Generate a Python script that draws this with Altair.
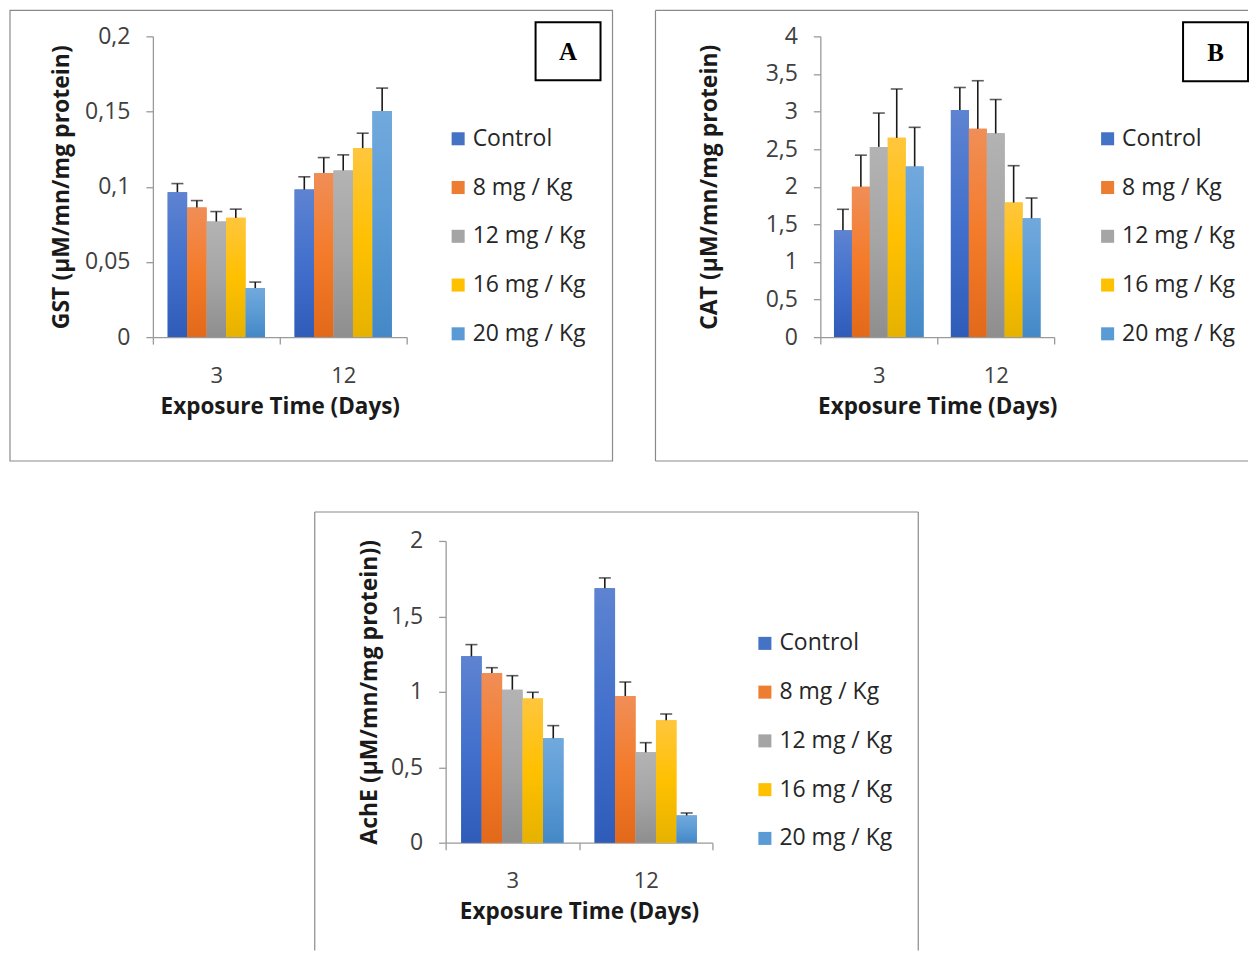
import altair as alt
import pandas as pd

series = ["Control", "8 mg / Kg", "12 mg / Kg", "16 mg / Kg", "20 mg / Kg"]
days = ["3", "12"]
colors = ["#4472C4", "#ED7D31", "#A5A5A5", "#FFC000", "#5B9BD5"]
grad_top = ["#5E83D1", "#F08E57", "#B3B3B3", "#FFC63D", "#71A9DD"]
grad_mid = ["#4270CC", "#F47B2A", "#A5A5A5", "#FFC000", "#5B9BD5"]
grad_bot = ["#2E5CB8", "#E3691A", "#8E8E8E", "#E6B200", "#4488C7"]

gst_day3 = [0.0964, 0.0862, 0.0769, 0.0793, 0.0326]
gst_day12 = [0.0981, 0.1092, 0.1108, 0.1257, 0.1503]
gst_err3 = [0.0057, 0.0046, 0.0066, 0.0058, 0.0040]
gst_err12 = [0.0085, 0.0102, 0.0104, 0.0099, 0.0153]

cat_day3 = [1.42, 2.00, 2.53, 2.65, 2.27]
cat_day12 = [3.02, 2.77, 2.71, 1.79, 1.58]
cat_err3 = [0.28, 0.42, 0.45, 0.65, 0.52]
cat_err12 = [0.30, 0.64, 0.45, 0.49, 0.27]

ache_day3 = [1.235, 1.125, 1.014, 0.955, 0.692]
ache_day12 = [1.686, 0.972, 0.599, 0.811, 0.181]
ache_err3 = [0.078, 0.035, 0.093, 0.042, 0.084]
ache_err12 = [0.069, 0.093, 0.064, 0.042, 0.016]

FONT = "Open Sans"
AXIS_GRAY = "#9a9a9a"
BORDER_GRAY = "#8a8a8a"


def make_df(v3, v12, e3, e12):
    rows = []
    for d, vals, errs in (("3", v3, e3), ("12", v12, e12)):
        for s, v, e in zip(series, vals, errs):
            rows.append({"day": d, "series": s, "value": v, "upper": v + e})
    return pd.DataFrame(rows)


one = pd.DataFrame({"k": [0]})


def panel(df, ytitle, ymax, ystep, width, height, legend_x, title_pad, border_layers,
          letter=None, letter_box=None):
    ticks = [round(i * ystep, 4) for i in range(int(round(ymax / ystep)) + 1)]
    x_axis = alt.Axis(title="Exposure Time (Days)", labelAngle=0, tickBand="extent",
                      labelPadding=21, titlePadding=9, labelFontSize=22)
    y_axis = alt.Axis(title=ytitle, values=ticks, labelOverlap=False, tickCount=len(ticks),
                      labelExpr="replace(format(datum.value, '~g'), '.', ',')",
                      labelPadding=16, titlePadding=title_pad)
    x_scale = alt.Scale(paddingInner=0, paddingOuter=0)
    y_scale = alt.Scale(domain=[0, ymax], nice=False, zero=True)
    xo_scale = alt.Scale(domain=series, paddingInner=0, paddingOuter=0.76)

    def X():
        return alt.X("day:N", sort=days, scale=x_scale, axis=x_axis)

    def XO():
        return alt.XOffset("series:N", sort=series, scale=xo_scale)

    def Y(field="value"):
        return alt.Y(f"{field}:Q", scale=y_scale, axis=y_axis)

    base = alt.Chart(df)
    bars = base.mark_bar().encode(
        x=X(), xOffset=XO(), y=Y(),
        color=alt.Color("series:N", sort=series,
                        scale=alt.Scale(domain=series, range=colors),
                        legend=alt.Legend(title=None, orient="none", legendX=legend_x, legendY=91,
                                          symbolType="square", symbolSize=170, symbolStrokeWidth=0,
                                          labelFontSize=23, labelFont=FONT, labelColor="#262626",
                                          rowPadding=24.8, labelOffset=3, padding=0, labelLimit=300)),
    )
    grads = []
    for s, t, m, b in zip(series, grad_top, grad_mid, grad_bot):
        g = alt.Gradient(gradient="linear", x1=0, x2=0, y1=0, y2=1,
                         stops=[alt.GradientStop(color=t, offset=0),
                                alt.GradientStop(color=m, offset=0.5),
                                alt.GradientStop(color=b, offset=1)])
        grads.append(base.transform_filter(alt.datum.series == s).mark_bar(color=g).encode(
            x=X(), xOffset=XO(), y=Y()))
    rules = base.mark_rule(color="#1a1a1a", strokeWidth=1.6).encode(
        x=X(), xOffset=XO(), y=Y(), y2="upper:Q")
    caps = base.mark_tick(color="#1a1a1a", thickness=1.6, size=12, orient="horizontal").encode(
        x=X(), xOffset=XO(), y=Y("upper"))
    layers = list(border_layers) + [bars] + grads + [rules, caps]
    if letter is not None:
        bx0, bx1, by0, by1 = letter_box
        layers.append(alt.Chart(one).mark_rect(fill="white", stroke="black", strokeWidth=2).encode(
            x=alt.value(bx0), x2=alt.value(bx1), y=alt.value(by0), y2=alt.value(by1)))
        layers.append(alt.Chart(one).mark_text(text=letter, font="Liberation Serif", fontSize=25,
                                               fontWeight="bold", color="black",
                                               align="center", baseline="middle").encode(
            x=alt.value((bx0 + bx1) / 2), y=alt.value((by0 + by1) / 2 + 1)))
    return alt.layer(*layers).properties(width=width, height=height)


def rect_border(x0, x1, y0, y1):
    return [alt.Chart(one).mark_rect(fillOpacity=0, stroke=BORDER_GRAY, strokeWidth=1.2).encode(
        x=alt.value(x0), x2=alt.value(x1), y=alt.value(y0), y2=alt.value(y1))]


def rule_h(x0, x1, y):
    return alt.Chart(one).mark_rule(color=BORDER_GRAY, strokeWidth=1.2).encode(
        x=alt.value(x0), x2=alt.value(x1), y=alt.value(y))


def rule_v(x, y0, y1):
    return alt.Chart(one).mark_rule(color=BORDER_GRAY, strokeWidth=1.2).encode(
        x=alt.value(x), y=alt.value(y0), y2=alt.value(y1))


A = panel(make_df(gst_day3, gst_day12, gst_err3, gst_err12),
          "GST (µM/mn/mg protein)", 0.2, 0.05, 254, 301, 294, 11,
          rect_border(-143, 460, -26, 425), "A", (383, 448, -14, 44))

B = panel(make_df(cat_day3, cat_day12, cat_err3, cat_err12),
          "CAT (µM/mn/mg protein)", 4, 0.5, 234, 301, 276, 44,
          [rule_v(-165, -26, 425), rule_h(-165, 428, -26), rule_h(-165, 428, 425)],
          "B", (363, 428, -14, 45))

C = panel(make_df(ache_day3, ache_day12, ache_err3, ache_err12),
          "AchE (µM/mn/mg protein))", 2, 0.5, 267, 302, 308, 9,
          [rule_v(-131, -29, 410), rule_v(473, -29, 410), rule_h(-131, 473, -29)])

spacer = alt.Chart(one).mark_point(opacity=0).encode(x=alt.value(0), y=alt.value(0)).properties(
    width=293, height=10)

top = alt.hconcat(A, B, spacing=414, bounds="flush").resolve_scale(
    color="independent", x="independent", y="independent", xOffset="independent")
bottom = alt.hconcat(spacer, C, spacing=0, bounds="flush").resolve_scale(
    color="independent", x="independent", y="independent")

chart = alt.vconcat(top, bottom, spacing=505, bounds="flush").resolve_scale(
    color="independent", x="independent", y="independent", xOffset="independent"
).properties(padding=0).configure_view(stroke="transparent").configure_axis(
    grid=False, domainColor=AXIS_GRAY, tickColor=AXIS_GRAY, domainWidth=1.3, tickWidth=1.3,
    tickSize=7, labelFont=FONT, labelFontSize=23, labelColor="#404040",
    titleFont=FONT, titleFontSize=23, titleFontWeight="bold", titleColor="#1a1a1a"
).configure_axisX(titleFontSize=22.5)

chart.save("out.html", embed_options={"renderer": "svg", "actions": False})
